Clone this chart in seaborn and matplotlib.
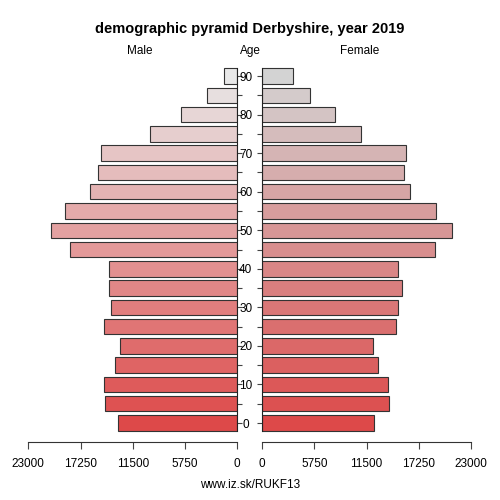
import numpy as np
import pandas as pd
import matplotlib
matplotlib.use("Agg")
import matplotlib.pyplot as plt
import seaborn as sns

# data
ages = list(range(0, 95, 5))
male = [13100, 14560, 14640, 13460, 12910, 14640, 13870, 14090, 14090, 18380,
        20540, 18930, 16210, 15330, 15000, 9570, 6200, 3300, 1430]
female = [12310, 13960, 13890, 12750, 12170, 14730, 14990, 15360, 14950, 19030,
          20940, 19110, 16310, 15650, 15870, 10840, 8050, 5220, 3420]
xticks = [23000, 17250, 11500, 5750, 0]
title = "demographic pyramid Derbyshire, year 2019"

sns.set_style("white")
plt.rcParams['font.family'] = ['Liberation Sans', 'DejaVu Sans']
plt.rcParams['text.color'] = 'black'
plt.rcParams['xtick.color'] = '#444444'
plt.rcParams['ytick.color'] = '#444444'
plt.rcParams['xtick.labelcolor'] = 'black'
plt.rcParams['ytick.labelcolor'] = 'black'

labels = [str(a) for a in ages]
order = labels[::-1]  # 90 on top
df = pd.DataFrame({"age": labels, "male": male, "female": female})


# colour ramp: red at age 0 to light grey at age 90
def ramp(top):
    red = np.array([221, 73, 73]) / 255
    grey = np.array(top) / 255
    n = len(ages)
    return {labels[i]: tuple(red + (grey - red) * i / (n - 1)) for i in range(n)}


fig = plt.figure(figsize=(5, 5), dpi=100)
bottom = (500 - 441.7) / 500
height = (441.7 - 62) / 500
ax_m = fig.add_axes([28.3 / 500, bottom, 209 / 500, height])
ax_f = fig.add_axes([262.3 / 500, bottom, 208.7 / 500, height])

sns.barplot(data=df, x="male", y="age", order=order, hue="age",
            palette=ramp([232, 232, 232]), legend=False, orient="h",
            saturation=1, width=0.8, edgecolor="#333333", linewidth=0.8, ax=ax_m)
sns.barplot(data=df, x="female", y="age", order=order, hue="age",
            palette=ramp([211, 211, 211]), legend=False, orient="h",
            saturation=1, width=0.8, edgecolor="#333333", linewidth=0.8, ax=ax_f)

ylo, yhi = 18.97, -0.73
tick_lab = [l if int(l) % 10 == 0 else "" for l in order]

for ax in (ax_m, ax_f):
    ax.set_ylim(ylo, yhi)
    ax.set_xlabel("")
    ax.set_ylabel("")
    ax.set_xticks(xticks)
    ax.set_xticklabels([str(t) for t in xticks], fontsize=8.5)
    ax.tick_params(axis="x", direction="out", length=5, width=0.8,
                   pad=7, bottom=True)
    ax.spines["top"].set_visible(False)
    ax.spines["bottom"].set_bounds(0, 23000)
    ax.spines["bottom"].set_color("#333333")
    ax.set_yticks(range(len(order)))

ax_m.set_xlim(23000, 0)
ax_f.set_xlim(0, 23000)

ax_m.spines["left"].set_visible(False)
ax_m.spines["right"].set_visible(True)
ax_m.spines["right"].set_color("#222222")
ax_m.spines["right"].set_bounds(18.4, -0.4)
ax_m.yaxis.tick_right()
ax_m.set_yticklabels([])
ax_m.tick_params(axis="y", direction="out", length=3.5, width=0.8, right=True)

ax_f.spines["right"].set_visible(False)
ax_f.spines["left"].set_color("#222222")
ax_f.spines["left"].set_bounds(18.4, -0.4)
ax_f.yaxis.tick_left()
ax_f.set_yticklabels(tick_lab, fontsize=8.5, ha="center")
ax_f.tick_params(axis="y", direction="out", length=3.5, width=0.8, pad=8.5, left=True)

fig.text(0.5, 1 - 29 / 500, title, ha="center", va="center",
         fontsize=10.5, fontweight="bold")
fig.text(140 / 500, 1 - 51 / 500, "Male", ha="center", va="center", fontsize=8.5)
fig.text(250 / 500, 1 - 51 / 500, "Age", ha="center", va="center", fontsize=8.5)
fig.text(360 / 500, 1 - 51 / 500, "Female", ha="center", va="center", fontsize=8.5)
fig.text(0.5, 1 - 485 / 500, "www.iz.sk/RUKF13", ha="center", va="center",
         fontsize=8.5)

fig.savefig("out.png", dpi=100)
